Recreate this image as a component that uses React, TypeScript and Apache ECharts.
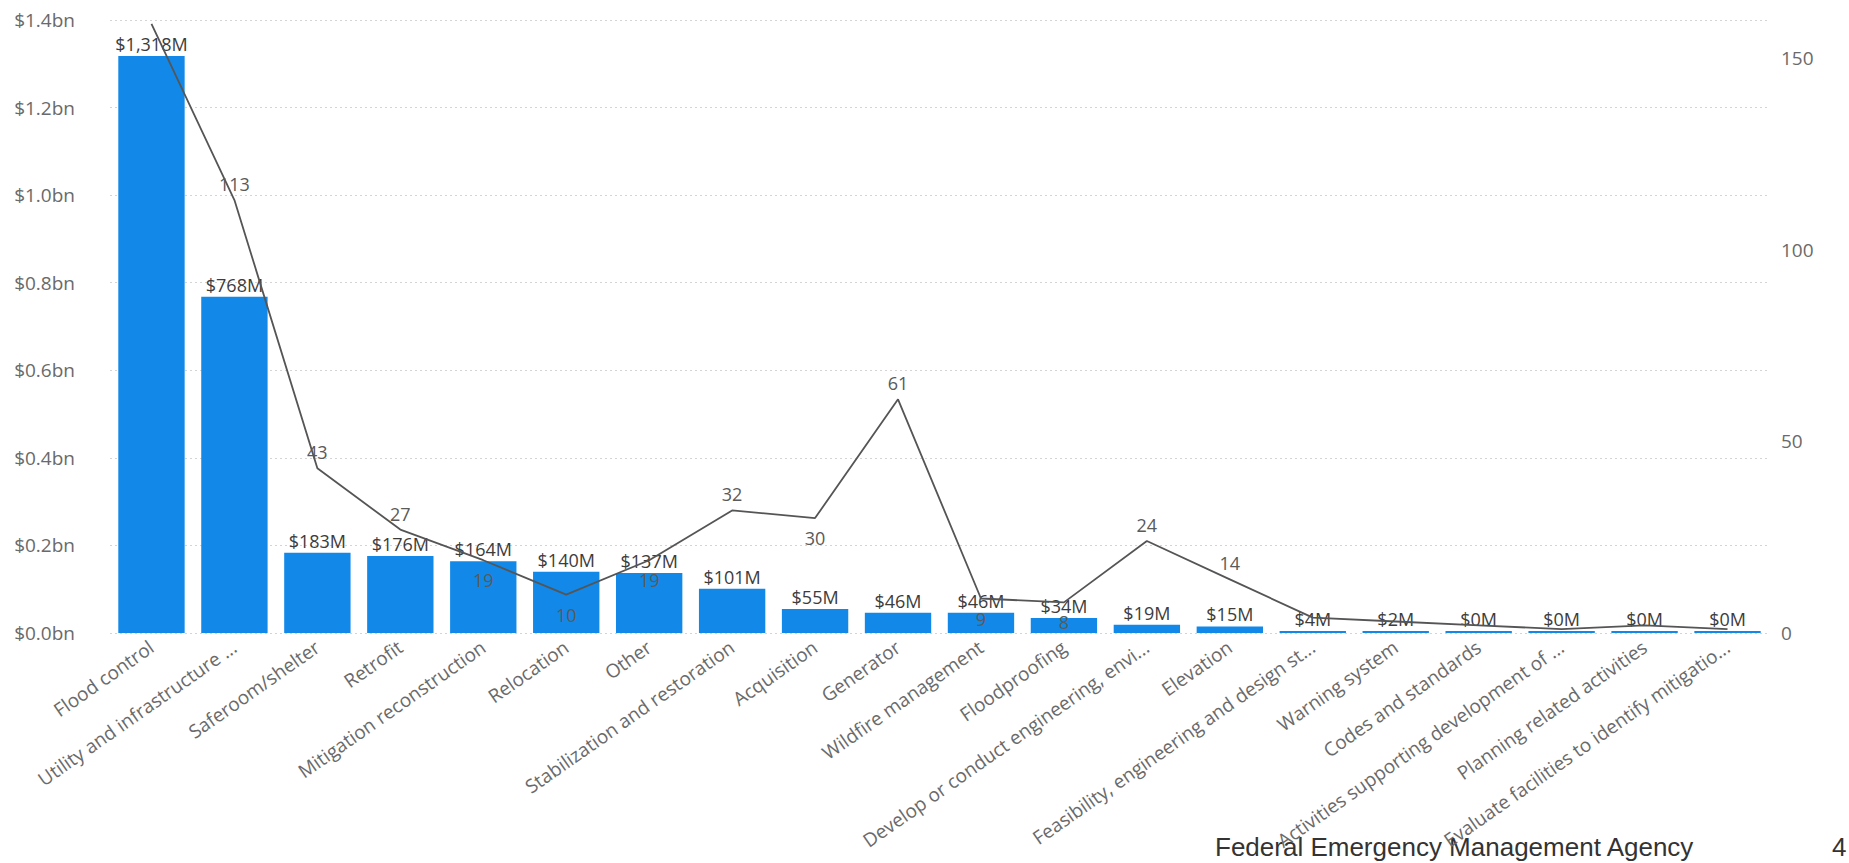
import React, { useEffect, useRef } from "react";
import * as echarts from "echarts";

const categories = [
  "Flood control",
  "Utility and infrastructure ...",
  "Saferoom/shelter",
  "Retrofit",
  "Mitigation reconstruction",
  "Relocation",
  "Other",
  "Stabilization and restoration",
  "Acquisition",
  "Generator",
  "Wildfire management",
  "Floodproofing",
  "Develop or conduct engineering, envi...",
  "Elevation",
  "Feasibility, engineering and design st...",
  "Warning system",
  "Codes and standards",
  "Activities supporting development of ...",
  "Planning related activities",
  "Evaluate facilities to identify mitigatio...",
];

// Funding in $M
const fundingM = [1318, 768, 183, 176, 164, 140, 137, 101, 55, 46, 46, 34, 19, 15, 4, 2, 0.3, 0.3, 0.3, 0.3];

// Project count
const projectCounts = [159, 113, 43, 27, 19, 10, 19, 32, 30, 61, 9, 8, 24, 14, 4, 3, 2, 1, 2, 1];

// Where each count label sits (hidden where the original hid it)
const countLabelPlacement = [
  "none", "top", "top", "top", "bottom", "bottom", "bottom", "top", "bottom", "top",
  "bottom", "bottom", "top", "top", "none", "none", "none", "none", "none", "none",
];

const leftTicksMax = 1400;
const leftTickStep = 200;
const rightMax = 160;
const rightTickStep = 50;

export default function App() {
  const ref = useRef<HTMLDivElement>(null);

  useEffect(() => {
    if (!ref.current) return;
    const chart = echarts.init(ref.current, null, { renderer: "svg" });
    const font = "'Open Sans', 'Noto Sans', sans-serif";

    const lineData = projectCounts.map((v, i) => {
      const pos = countLabelPlacement[i];
      return {
        value: v,
        label:
          pos === "none"
            ? { show: false }
            : { show: true, position: pos, distance: pos === "bottom" ? 10 : 6 },
      };
    });

    chart.setOption({
      animation: false,
      backgroundColor: "#ffffff",
      textStyle: { fontFamily: font },
      grid: { left: 110, right: 80, top: 20, bottom: 230 },
      xAxis: {
        type: "category",
        data: categories,
        axisLine: { show: false },
        axisTick: { show: false },
        axisLabel: {
          interval: 0,
          rotate: 35,
          fontSize: 19,
          color: "#6a6a6a",
          fontFamily: font,
          margin: 12,
        },
      },
      yAxis: [
        {
          type: "value",
          min: 0,
          max: leftTicksMax,
          interval: leftTickStep,
          axisLine: { show: false },
          axisTick: { show: false },
          axisLabel: {
            margin: 35,
            fontSize: 19,
            color: "#6a6a6a",
            fontFamily: font,
            formatter: (v: number) => `$${(v / 1000).toFixed(1)}bn`,
          },
          splitLine: { show: true, lineStyle: { color: "#d4d4d4", type: [2, 3], width: 1 } },
        },
        {
          type: "value",
          min: 0,
          max: rightMax,
          interval: rightTickStep,
          axisLine: { show: false },
          axisTick: { show: false },
          splitLine: { show: false },
          axisLabel: {
            margin: 12,
            fontSize: 19,
            color: "#6a6a6a",
            fontFamily: font,
            showMaxLabel: false,
          },
        },
      ],
      series: [
        {
          type: "bar",
          data: fundingM,
          yAxisIndex: 0,
          barCategoryGap: "20%",
          barMinHeight: 2,
          itemStyle: { color: "#1289E8" },
          label: {
            show: true,
            position: "top",
            distance: 3,
            fontSize: 18,
            color: "#3c3c3c",
            fontFamily: font,
            formatter: (p: any) => `$${Math.round(p.value).toLocaleString("en-US")}M`,
          },
        },
        {
          type: "line",
          data: lineData,
          yAxisIndex: 1,
          symbol: "circle",
          symbolSize: 2,
          showSymbol: true,
          itemStyle: { color: "rgba(0,0,0,0)" },
          lineStyle: { color: "#555555", width: 1.8 },
          label: {
            fontSize: 18,
            color: "#5a5a5a",
            fontFamily: font,
          },
          z: 3,
        },
      ],
      graphic: [
        {
          type: "text",
          left: 1215,
          top: 834,
          style: {
            text: "Federal Emergency Management Agency",
            fontSize: 26,
            fontFamily: "'Liberation Sans', Arial, sans-serif",
            fill: "#333333",
          },
        },
        {
          type: "text",
          left: 1832,
          top: 834,
          style: {
            text: "4",
            fontSize: 26,
            fontFamily: "'Liberation Sans', Arial, sans-serif",
            fill: "#333333",
          },
        },
      ],
    });

    return () => chart.dispose();
  }, []);

  return (
    <div
      ref={ref}
      style={{ position: "fixed", left: 0, top: 0, width: 1849, height: 863 }}
    />
  );
}
